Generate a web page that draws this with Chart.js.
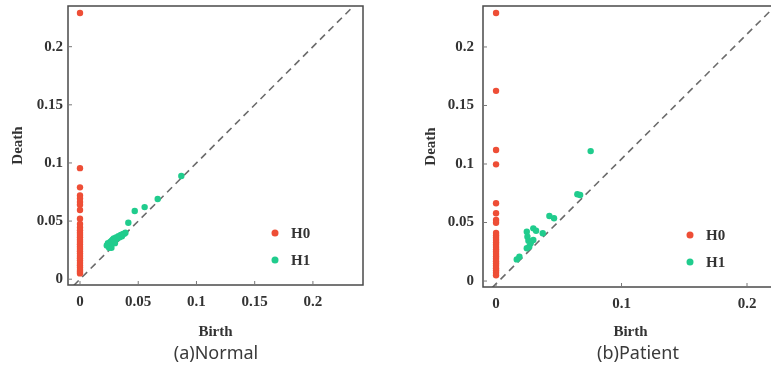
<!DOCTYPE html>
<html lang="en">
<head>
<meta charset="UTF-8">
<title>Persistence diagrams</title>
<script src="https://cdn.jsdelivr.net/npm/chart.js"></script>
<style>
  body { margin: 0; background: #fff; width: 771px; height: 370px; overflow: hidden; position: relative; }
  canvas { position: absolute; top: 0; }
  .legenda { position: absolute; top: 340px; width: 200px; text-align: center;
             font-family: "Noto Sans", sans-serif; font-size: 18px; color: #3a3a3a; }
</style>
</head>
<body>
  <canvas id="graficoNormal" width="385" height="345" style="left:0"></canvas>
  <canvas id="graficoPaciente" width="410" height="345" style="left:385px"></canvas>
  <div class="legenda" style="left:116px">(a)Normal</div>
  <div class="legenda" style="left:538px">(b)Patient</div>

<script>
  // ticks
  const ticksNormalBirth = [0, 0.05, 0.1, 0.15, 0.2];
  const ticksPatientBirth = [0, 0.1, 0.2];
  const ticksDeath = [0, 0.05, 0.1, 0.15, 0.2];

  // (a) Normal - H0 (birth sempre 0)
  const normalH0Death = [0.229, 0.0955, 0.079, 0.072, 0.0695, 0.0665, 0.064, 0.0595, 0.052, 0.0475, 0.0445,
    0.042, 0.040, 0.038, 0.036, 0.034, 0.032, 0.030, 0.028, 0.026, 0.024, 0.022, 0.020, 0.018,
    0.016, 0.014, 0.012, 0.010, 0.008, 0.0065, 0.005];
  // (a) Normal - H1
  const normalH1Birth = [0.087, 0.0667, 0.0555, 0.047, 0.0415, 0.039, 0.038, 0.037, 0.036, 0.035, 0.034,
    0.033, 0.032, 0.031, 0.030, 0.030, 0.029, 0.029, 0.028, 0.028, 0.027, 0.027, 0.027, 0.026,
    0.026, 0.025, 0.025, 0.024, 0.023];
  const normalH1Death = [0.0888, 0.069, 0.062, 0.0586, 0.0485, 0.040, 0.039, 0.039, 0.037, 0.038, 0.036,
    0.037, 0.035, 0.036, 0.034, 0.031, 0.035, 0.032, 0.034, 0.031, 0.033, 0.030, 0.027, 0.032,
    0.028, 0.030, 0.027, 0.031, 0.029];
  const normalDiagBirth = [-0.02, 0.26];
  const normalDiagDeath = [-0.02, 0.26];

  // (b) Patient - H0
  const patientH0Death = [0.229, 0.1625, 0.112, 0.0997, 0.0664, 0.0579, 0.0521, 0.0498,
    0.041, 0.039, 0.037, 0.035, 0.033, 0.031, 0.029, 0.027, 0.025, 0.023, 0.021, 0.019,
    0.017, 0.015, 0.013, 0.011, 0.009, 0.007, 0.005];
  // (b) Patient - H1
  const patientH1Birth = [0.0754, 0.0648, 0.067, 0.0425, 0.0462, 0.0297, 0.0319, 0.0245, 0.0372,
    0.025, 0.0258, 0.0297, 0.0276, 0.0265, 0.0245, 0.0186, 0.0165];
  const patientH1Death = [0.111, 0.0741, 0.0735, 0.0556, 0.0536, 0.045, 0.043, 0.0421, 0.0408,
    0.0379, 0.0344, 0.035, 0.0322, 0.0293, 0.028, 0.0208, 0.0185];
  const patientDiagBirth = [-0.01, 0.23];
  const patientDiagDeath = [-0.013, 0.243];

  const vermelho = '#ee4e36';
  const verde = '#20cc8d';
  const fonteSerif = 'Liberation Serif, Times New Roman, serif';

  const pontos = (xs, ys) => ys.map((y, i) => ({ x: Array.isArray(xs) ? xs[i] : xs, y: y }));

  // moldura, ticks internos e legenda
  const moldura = {
    id: 'moldura',
    afterDraw(chart) {
      const { ctx, chartArea: a, scales } = chart;
      ctx.save();
      ctx.strokeStyle = '#4a4a4a';
      ctx.lineWidth = 1.5;
      ctx.strokeRect(a.left, a.top, a.right - a.left, a.bottom - a.top);
      ctx.lineWidth = 1;
      ctx.strokeStyle = '#777';
      scales.x.ticks.forEach(t => {
        const px = scales.x.getPixelForValue(t.value);
        ctx.beginPath(); ctx.moveTo(px, a.bottom); ctx.lineTo(px, a.bottom - 4); ctx.stroke();
      });
      scales.y.ticks.forEach(t => {
        const py = scales.y.getPixelForValue(t.value);
        ctx.beginPath(); ctx.moveTo(a.left, py); ctx.lineTo(a.left + 4, py); ctx.stroke();
      });
      let linha = 0;
      ctx.font = 'bold 15px ' + fonteSerif;
      ctx.textBaseline = 'middle';
      chart.data.datasets.forEach(ds => {
        if (!ds.naLegenda) return;
        const x = a.right - 88;
        const y = a.bottom - 52 + linha * 27;
        ctx.fillStyle = ds.backgroundColor;
        ctx.beginPath(); ctx.arc(x, y, 3.5, 0, Math.PI * 2); ctx.fill();
        ctx.fillStyle = '#333';
        ctx.fillText(ds.label, x + 16, y + 1);
        linha++;
      });
      ctx.restore();
    }
  };

  function criarGrafico(id, cfg) {
    const fonteTick = { family: fonteSerif, size: 15, weight: 'bold' };
    const fonteTitulo = { family: fonteSerif, size: 15, weight: 'bold' };
    return new Chart(document.getElementById(id), {
      type: 'scatter',
      data: {
        datasets: [
          { label: 'H0', data: pontos(0, cfg.h0Death), backgroundColor: vermelho, borderWidth: 0, pointRadius: 3.2, naLegenda: true },
          { label: 'H1', data: pontos(cfg.h1Birth, cfg.h1Death), backgroundColor: verde, borderWidth: 0, pointRadius: 3.2, naLegenda: true },
          { label: 'diag', type: 'line', data: pontos(cfg.diagBirth, cfg.diagDeath), order: 2,
            borderColor: '#6b6b6b', borderWidth: 1.6, borderDash: [7, 5], pointRadius: 0, fill: false }
        ]
      },
      options: {
        responsive: false,
        animation: false,
        layout: { padding: { left: 0, top: 6, right: cfg.padDir, bottom: 0 } },
        plugins: { legend: { display: false }, tooltip: { enabled: false } },
        scales: {
          x: {
            type: 'linear', min: cfg.xMin, max: cfg.xMax,
            grid: { display: false, drawTicks: false },
            border: { display: false },
            ticks: { padding: 8, font: fonteTick, color: '#333', callback: v => String(v) },
            afterBuildTicks: s => { s.ticks = cfg.xTicks.map(v => ({ value: v })); },
            afterFit: s => { s.height = cfg.alturaX; s.paddingLeft = 0; s.paddingRight = 0; },
            title: { display: true, text: 'Birth', font: fonteTitulo, color: '#333', padding: { top: 0, bottom: 4 } }
          },
          y: {
            type: 'linear', min: cfg.yMin, max: cfg.yMax,
            grid: { display: false, drawTicks: false },
            border: { display: false },
            ticks: { padding: cfg.padTickY, font: fonteTick, color: '#333', callback: v => String(v) },
            afterBuildTicks: s => { s.ticks = ticksDeath.map(v => ({ value: v })); },
            afterFit: s => { s.width = cfg.larguraY; s.paddingTop = 0; s.paddingBottom = 0; },
            title: { display: true, text: 'Death', font: fonteTitulo, color: '#333', padding: { top: cfg.padTituloY, bottom: 0 } }
          }
        }
      },
      plugins: [moldura]
    });
  }

  criarGrafico('graficoNormal', {
    h0Death: normalH0Death, h1Birth: normalH1Birth, h1Death: normalH1Death,
    diagBirth: normalDiagBirth, diagDeath: normalDiagDeath,
    xTicks: ticksNormalBirth, xMin: -0.0103, xMax: 0.243, yMin: -0.005, yMax: 0.235,
    padDir: 22, alturaX: 60, larguraY: 68, padTickY: 5, padTituloY: 9
  });

  criarGrafico('graficoPaciente', {
    h0Death: patientH0Death, h1Birth: patientH1Birth, h1Death: patientH1Death,
    diagBirth: patientDiagBirth, diagDeath: patientDiagDeath,
    xTicks: ticksPatientBirth, xMin: -0.0104, xMax: 0.2247, yMin: -0.0051, yMax: 0.235,
    padDir: 17, alturaX: 58, larguraY: 98, padTickY: 9, padTituloY: 37
  });
</script>
</body>
</html>
